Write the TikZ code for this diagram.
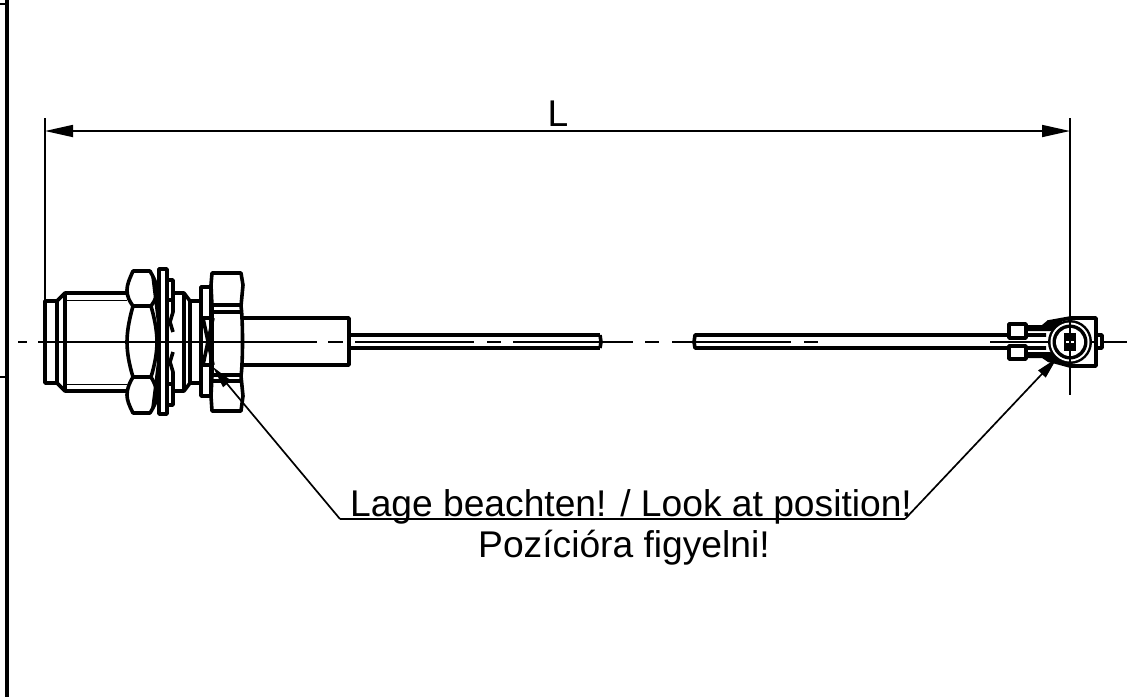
\documentclass[tikz,border=0pt]{standalone}
\usepackage{fontspec}
\setmainfont{Liberation Sans}
\usetikzlibrary{arrows.meta}
\tikzset{
    outl/.style={line width=1.8pt, line join=round},
    thinl/.style={line width=0.85pt},
    dimtip/.style={-{Triangle[length=14pt, width=6pt]}},
    leadtip/.style={-{Triangle[length=11pt, width=5pt]}},
    labeltext/.style={font=\fontsize{18.6}{22}\selectfont, inner sep=0pt}
}
\begin{document}
\begin{tikzpicture}[x=0.5pt, y=-0.5pt]
    \useasboundingbox (0,0) rectangle (1128,697);

    % frame on the left
    \draw[line width=1.8pt] (7,0) -- (7,697);
    \draw[thinl] (0,4) -- (7,4);
    \draw[thinl] (0,377) -- (7,377);

    % centre line
    \draw[thinl] (18,342) -- (27,342);
    \draw[thinl] (38,342) -- (317,342);
    \draw[thinl] (328,342) -- (343,342);
    \foreach \x in {355,672,990} {
        \draw[thinl] (\x,342) -- (\x+119,342);
    }
    \foreach \x in {487,645,804} {
        \draw[thinl] (\x,342) -- (\x+14,342);
    }
    \draw[thinl] (513,342) -- (633,342);
    \draw[thinl] (1097,342) -- (1127,342);

    % dimension
    \coordinate (dimleft) at (45,131);
    \coordinate (dimright) at (1070,131);
    \draw[thinl] (45,118) -- (45,300);
    \draw[thinl] (1070,118) -- (1070,395);
    \draw[thinl, dimtip] (558,131) -- (dimleft);
    \draw[thinl, dimtip] (558,131) -- (dimright);
    \node[labeltext] (lenlabel) at (558,114) {L};

    % threaded body
    \draw[outl] (57,301) -- (45,301) -- (45,383) -- (57,383);
    \draw[outl] (57,301) -- (65,293) -- (127,293);
    \draw[outl] (57,383) -- (65,391) -- (127,391);
    \draw[outl] (57,301) -- (57,383);
    \draw[outl] (65,293) -- (65,391);
    \draw[line width=0.5pt] (65,300) -- (127,300);
    \draw[line width=0.5pt] (65,384) -- (127,384);

    % first nut
    \draw[outl] (133,271) -- (150,271) .. controls (155,280) and (157,285) .. (157,290)
        .. controls (157,297) and (154,302) .. (151,306)
        .. controls (155,320) and (157,332) .. (157,342)
        .. controls (157,352) and (155,364) .. (151,377)
        .. controls (154,382) and (157,388) .. (157,395)
        .. controls (157,400) and (155,405) .. (150,413) -- (133,413)
        .. controls (129,405) and (127,400) .. (127,395)
        .. controls (127,388) and (130,382) .. (133,377)
        .. controls (129,364) and (127,352) .. (127,342)
        .. controls (127,332) and (129,320) .. (133,306)
        .. controls (130,302) and (127,297) .. (127,290)
        .. controls (127,285) and (129,280) .. (133,271) -- cycle;
    \draw[outl] (133,306) -- (151,306);
    \draw[outl] (133,377) -- (151,377);
    \draw[outl] (153,276) -- (159,325);
    \draw[outl] (153,408) -- (159,360);
    \draw[outl] (155,300) -- (159,288);
    \draw[outl] (155,384) -- (159,396);

    % washer and teeth
    \draw[outl] (159,269) rectangle (167,414);
    \draw[outl] (167,280) -- (173,280) -- (173,312) -- (170,322) -- (173,332);
    \draw[outl] (167,405) -- (173,405) -- (173,372) -- (170,362) -- (173,352);
    \draw[outl] (167,300) -- (172,300);
    \draw[outl] (167,384) -- (172,384);

    % rear of the body
    \draw[outl] (173,293) -- (184,293) -- (190,301) -- (202,301);
    \draw[outl] (173,391) -- (184,391) -- (190,383) -- (202,383);
    \draw[outl] (184,293) -- (184,391);
    \draw[outl] (190,301) -- (190,383);

    % second washer
    \draw[outl] (201,287) rectangle (211,396);
    \draw[outl] (201,318) -- (211,318);
    \draw[outl] (201,365) -- (211,365);
    \draw[outl] (203,318) -- (213,365);
    \draw[outl] (213,318) -- (203,365);

    % second nut
    \draw[outl] (212,273) -- (241,273) -- (243,285) -- (241,306)
        .. controls (243,320) and (243,362) .. (241,376) -- (243,396) -- (241,411) -- (212,411)
        -- (211,396) -- (212,376) -- (212,306) -- (211,285) -- cycle;
    \draw[outl] (212,305) -- (241,305);
    \draw[outl] (212,312) -- (241,312);
    \draw[outl] (212,375) -- (241,375);
    \draw[outl] (212,381) -- (241,381);

    % sleeve
    \draw[outl] (243,318) -- (349,318) -- (349,365) -- (243,365);

    % cable
    \draw[outl] (349,335) -- (600,335);
    \draw[outl] (349,348) -- (600,348);
    \draw[outl] (600,335) -- (601,342) -- (600,348);
    \draw[outl] (1046,335) -- (695,335) -- (694,342) -- (695,348) -- (1046,348);

    % angled plug
    \draw[outl, fill=white] (1009,324) rectangle (1026,338);
    \draw[outl, fill=white] (1009,346) rectangle (1026,359);
    \draw[outl] (1048,322) -- (1070,318) -- (1096,318) -- (1096,366) -- (1070,366) -- (1048,360);
    \fill (1026,325) -- (1042,325) -- (1048,320) -- (1062,320) -- (1062,328) -- (1050,331) -- (1026,331) -- cycle;
    \fill (1026,352) -- (1050,352) -- (1062,356) -- (1062,364) -- (1048,362) -- (1042,358) -- (1026,358) -- cycle;
    \draw[outl, fill=white] (1096,335) rectangle (1102,348);
    \fill (1070,342) circle (22);
    \fill[white] (1070,342) circle (19.5);
    \fill (1070,342) circle (17.5);
    \fill[white] (1070,342) circle (14);
    \fill (1064,333) rectangle (1076,351);
    \draw[thinl, white] (1066,342) -- (1074,342);
    \draw[thinl] (1070,318) -- (1070,395);

    % text and leaders
    \node[labeltext, anchor=base] (posen) at (631,516) {Lage beachten! / Look at position!};
    \node[labeltext, anchor=base] (poshu) at (624,557) {Pozícióra figyelni!};
    \coordinate (kneeleft) at (340,519);
    \coordinate (kneeright) at (905,519);
    \draw[thinl] (kneeleft) -- (kneeright);
    \draw[thinl, leadtip] (kneeleft) -- (213,367);
    \draw[thinl, leadtip] (kneeright) -- (1057,358);
\end{tikzpicture}
\end{document}
